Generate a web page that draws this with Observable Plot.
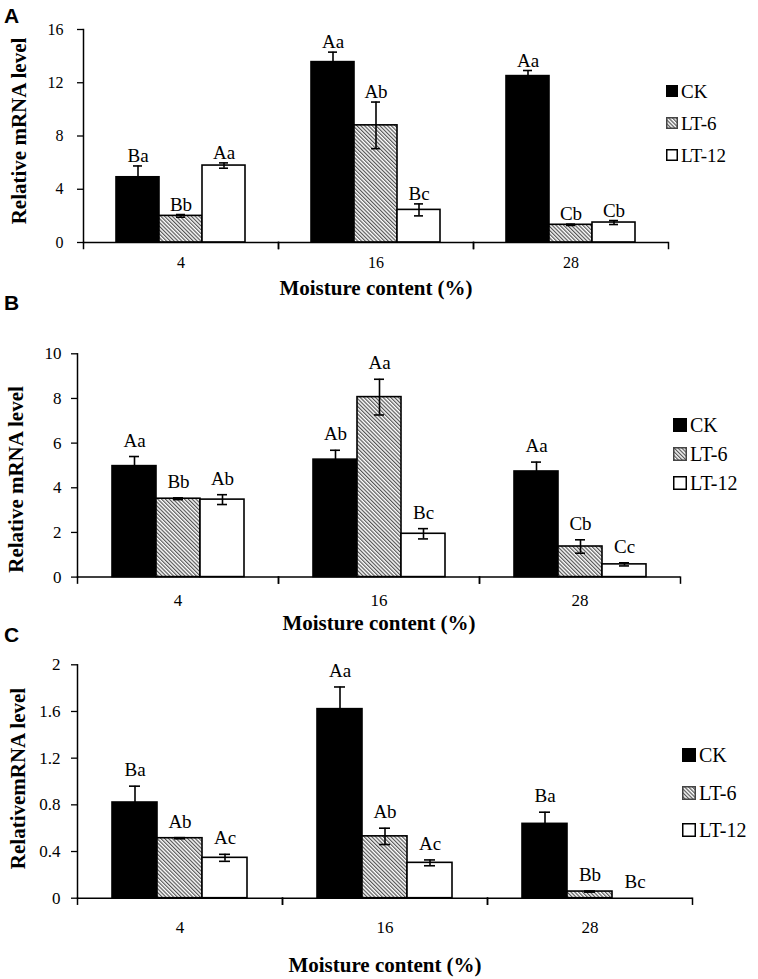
<!DOCTYPE html>
<html><head><meta charset="utf-8">
<script src="https://cdn.jsdelivr.net/npm/d3@7"></script>
<script src="https://cdn.jsdelivr.net/npm/@observablehq/plot@0.6"></script>
<style>
body{margin:0;background:#fff;width:758px;height:979px;overflow:hidden;position:relative;}
.panel{position:absolute;left:0;width:758px;}
.panel svg{display:block;overflow:visible;}
.letter{position:absolute;left:4px;font-family:"Liberation Sans",Arial,sans-serif;font-weight:bold;font-size:21px;line-height:1;}
.legend{position:absolute;left:0;top:0;overflow:visible;}
</style></head><body>
<svg width="0" height="0" style="position:absolute;left:0;top:0"><defs>
<pattern id="hatch" patternUnits="userSpaceOnUse" width="2.7" height="2.7" patternTransform="rotate(-45)">
<rect width="2.7" height="2.7" fill="#fff"/><line x1="0.6" y1="-1" x2="0.6" y2="4" stroke="#555" stroke-width="1.2"/>
</pattern></defs></svg>
<div id="root"></div>
<script>
const groups = ["4", "16", "28"];
const series = ["CK", "LT-6", "LT-12"];
const xTitle = "Moisture content (%)";

// Panel A (rows: CK, LT-6, LT-12; columns: 4, 16, 28)
const valuesA = [[4.9, 13.55, 12.5], [2.0, 8.8, 1.33], [5.78, 2.45, 1.5]];
const errorsA = [[0.85, 0.75, 0.42], [0.1, 1.75, 0.05], [0.2, 0.45, 0.15]];
const lettersA = [["Ba", "Aa", "Aa"], ["Bb", "Ab", "Cb"], ["Aa", "Bc", "Cb"]];
const ticksA = [0, 4, 8, 12, 16];

// Panel B
const valuesB = [[4.97, 5.26, 4.73], [3.51, 8.06, 1.37], [3.47, 1.94, 0.57]];
const errorsB = [[0.43, 0.42, 0.42], [0.04, 0.8, 0.3], [0.22, 0.23, 0.07]];
const lettersB = [["Aa", "Ab", "Aa"], ["Bb", "Aa", "Cb"], ["Ab", "Bc", "Cc"]];
const ticksB = [0, 2, 4, 6, 8, 10];

// Panel C
const valuesC = [[0.82, 1.62, 0.637], [0.514, 0.53, 0.057], [0.346, 0.303, 0]];
const errorsC = [[0.14, 0.19, 0.1], [0.005, 0.07, 0.005], [0.03, 0.025, 0]];
const lettersC = [["Ba", "Aa", "Ba"], ["Ab", "Ab", "Bb"], ["Ac", "Ac", "Bc"]];
const ticksC = [0, 0.4, 0.8, 1.2, 1.6, 2];

function rows(vals, errs, labs) {
  const out = [];
  series.forEach((s, i) => groups.forEach((g, j) =>
    out.push({group: g, series: s, value: vals[i][j], err: errs[i][j], label: labs[i][j]})));
  return out;
}

const panels = [
  {letter: "A", top: 0, height: 320, mt: 29, mb: 78, ml: 82, mr: 90, data: rows(valuesA, errorsA, lettersA),
   ticks: ticksA, tickFont: 16, tickPad: 14, fxPad: 14, labelFont: 19, labelDy: -4,
   yTitle: "Relative mRNA level", yTitleDx: -64, yTitleDy: -5, xTitleDy: 52, letterTop: 5,
   legend: {x: 666, ys: [91, 123, 155], sw: 12, font: 19}},
  {letter: "B", top: 305, height: 340, mt: 48.3, mb: 68.4, ml: 76, mr: 78, data: rows(valuesB, errorsB, lettersB),
   ticks: ticksB, tickFont: 17, tickPad: 10, fxPad: 17, labelFont: 19, labelDy: -10,
   yTitle: "Relative mRNA level", yTitleDx: -61, yTitleDy: 14, xTitleDy: 53, letterTop: 292,
   legend: {x: 673, ys: [425, 454, 483], sw: 14, font: 20}},
  {letter: "C", top: 625, height: 354, mt: 39.3, mb: 81.3, ml: 77, mr: 66, data: rows(valuesC, errorsC, lettersC),
   ticks: ticksC, tickFont: 17, tickPad: 11, fxPad: 23, labelFont: 19, labelDy: -10,
   yTitle: "RelativemRNA level", yTitleDx: -59, yTitleDy: -3, xTitleDy: 74, letterTop: 624,
   legend: {x: 682, ys: [755, 793, 830], sw: 14, font: 20}}
];

const fills = ["#000", "url(#hatch)", "#fff"];
const fontFamily = "'Liberation Serif', 'Times New Roman', serif";
const root = document.getElementById("root");

for (const p of panels) {
  const plotH = p.height - p.mt - p.mb;
  const withErr = p.data.filter(d => d.err > 0);
  const chart = Plot.plot({
    width: 758, height: p.height,
    marginTop: p.mt, marginBottom: p.mb, marginLeft: p.ml, marginRight: p.mr,
    style: {fontFamily, fontSize: p.tickFont + "px", color: "#000", background: "transparent"},
    fx: {domain: groups, padding: 0, label: null},
    x: {domain: series, paddingInner: 0, paddingOuter: 0.75, axis: null},
    y: {domain: [0, p.ticks[p.ticks.length - 1]], label: null},
    color: {domain: series, range: fills},
    marks: [
      Plot.axisY(p.ticks, {tickSize: 6, tickPadding: p.tickPad, tickFormat: d => String(d), label: null, strokeWidth: 1.3, fontSize: p.tickFont}),
      Plot.axisFx({anchor: "bottom", tickSize: 0, tickPadding: p.fxPad, label: null, fontSize: p.tickFont}),
      Plot.barY(p.data, {fx: "group", x: "series", y: "value", fill: "series", stroke: "#000", strokeWidth: 1.6}),
      Plot.ruleX(withErr, {fx: "group", x: "series", y1: d => d.value - d.err, y2: d => d.value + d.err, strokeWidth: 1.6}),
      Plot.tickY(withErr, {fx: "group", x: "series", y: d => d.value + d.err, inset: 17, strokeWidth: 1.6}),
      Plot.tickY(withErr, {fx: "group", x: "series", y: d => d.value - d.err, inset: 17, strokeWidth: 1.6}),
      Plot.text(p.data, {fx: "group", x: "series", y: d => d.value + d.err, text: "label", lineAnchor: "bottom", dy: p.labelDy, fontSize: p.labelFont}),
      Plot.ruleY([0], {strokeWidth: 1.5}),
      Plot.frame({anchor: "left", facetAnchor: "left", strokeWidth: 1.5}),
      Plot.frame({anchor: "left", insetTop: plotH, insetBottom: -6, strokeWidth: 1.5}),
      Plot.frame({anchor: "right", insetTop: plotH, insetBottom: -6, strokeWidth: 1.5}),
      Plot.text([xTitle], {facet: "super", frameAnchor: "bottom", lineAnchor: "bottom", text: d => d, dy: p.xTitleDy, fontWeight: "bold", fontSize: 21}),
      Plot.text([p.yTitle], {facet: "super", frameAnchor: "left", textAnchor: "middle", text: d => d, rotate: -90, dx: p.yTitleDx, dy: p.yTitleDy, fontWeight: "bold", fontSize: 21})
    ]
  });
  const div = document.createElement("div");
  div.className = "panel";
  div.style.top = p.top + "px";
  div.appendChild(chart);
  root.appendChild(div);

  const L = document.createElement("div");
  L.className = "letter";
  L.style.top = p.letterTop + "px";
  L.textContent = p.letter;
  document.body.appendChild(L);

  // legend (SVG text, same font as the chart)
  const sw = p.legend.sw;
  let inner = "";
  series.forEach((s, i) => {
    const cy = p.legend.ys[i];
    const stroke = i === 1 ? "#444" : "#000";
    inner += `<rect x="${p.legend.x + 0.75}" y="${cy - sw / 2 + 0.75}" width="${sw - 1.5}" height="${sw - 1.5}" fill="${fills[i]}" stroke="${stroke}" stroke-width="1.5"/>`;
    inner += `<text x="${p.legend.x + sw + 3}" y="${cy}" dy="0.35em" style="font-family:${fontFamily};font-size:${p.legend.font}px">${s}</text>`;
  });
  const leg = document.createElementNS("http://www.w3.org/2000/svg", "svg");
  leg.setAttribute("class", "legend");
  leg.setAttribute("width", "758");
  leg.setAttribute("height", "979");
  leg.innerHTML = inner;
  document.body.appendChild(leg);
}
</script>
</body></html>
